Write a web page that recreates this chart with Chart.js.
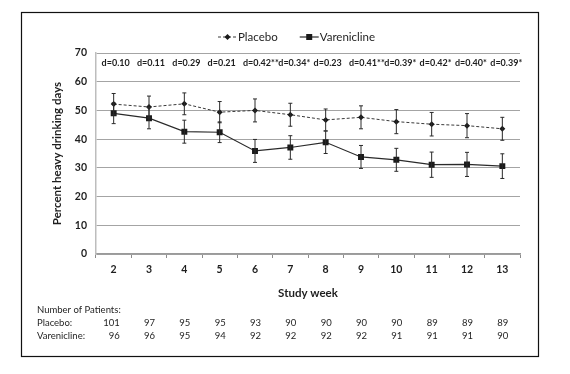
<!DOCTYPE html>
<html>
<head>
<meta charset="utf-8">
<script src="https://cdn.jsdelivr.net/npm/chart.js@4.4.0/dist/chart.umd.min.js"></script>
<style>
    html, body { margin: 0; padding: 0; background: #fff; }
    #wrap { position: relative; width: 570px; height: 374px; }
</style>
</head>
<body>
<div id="wrap"><canvas id="chart" width="570" height="374"></canvas></div>
<script>
// Data
const weeks = ['2', '3', '4', '5', '6', '7', '8', '9', '10', '11', '12', '13'];
const placebo = [52.2, 51.2, 52.3, 49.4, 50.0, 48.5, 46.7, 47.6, 46.1, 45.2, 44.7, 43.6];
const placeboErr = [3.7, 3.8, 3.8, 3.7, 4.0, 4.0, 3.8, 4.0, 4.2, 4.1, 4.2, 4.0];
const varenicline = [49.0, 47.3, 42.6, 42.4, 35.9, 37.1, 38.9, 33.8, 32.8, 31.1, 31.2, 30.6];
const vareniclineErr = [3.6, 3.7, 4.0, 3.6, 4.0, 4.1, 3.9, 4.0, 4.0, 4.4, 4.2, 4.3];
const effectSizes = ['d=0.10', 'd=0.11', 'd=0.29', 'd=0.21', 'd=0.42', 'd=0.34', 'd=0.23', 'd=0.41', 'd=0.39', 'd=0.42', 'd=0.40', 'd=0.39'];
const effectStars = ['', '', '', '', '**', '*', '', '**', '*', '*', '*', '*'];
const placeboN = [101, 97, 95, 95, 93, 90, 90, 90, 90, 89, 89, 89];
const vareniclineN = [96, 96, 95, 94, 92, 92, 92, 92, 91, 91, 91, 90];
const yMin = 0, yMax = 70, yStep = 10;

const FONT = 'Lato, "Noto Sans", sans-serif';
const INK = '#1e1e1e';

// Error bars with small caps
const errorBars = {
    id: 'errorBars',
    afterDatasetsDraw(chart) {
        const ctx = chart.ctx;
        const y = chart.scales.y;
        chart.data.datasets.forEach((ds, di) => {
            const meta = chart.getDatasetMeta(di);
            ctx.save();
            ctx.strokeStyle = '#2a2a2a';
            ctx.lineWidth = 1;
            meta.data.forEach((pt, i) => {
                const top = y.getPixelForValue(ds.data[i] + ds.errors[i]);
                const bot = y.getPixelForValue(ds.data[i] - ds.errors[i]);
                ctx.beginPath();
                ctx.moveTo(pt.x, top); ctx.lineTo(pt.x, bot);
                ctx.moveTo(pt.x - 2, top); ctx.lineTo(pt.x + 2, top);
                ctx.moveTo(pt.x - 2, bot); ctx.lineTo(pt.x + 2, bot);
                ctx.stroke();
            });
            ctx.restore();
        });
    }
};

// Frame, legend, effect sizes and the patient count table
const extras = {
    id: 'extras',
    beforeDraw(chart) {
        const ctx = chart.ctx;
        ctx.save();
        ctx.fillStyle = '#fff';
        ctx.fillRect(0, 0, chart.width, chart.height);
        ctx.strokeStyle = '#111';
        ctx.lineWidth = 1.2;
        ctx.strokeRect(21.5, 12.5, 517, 344);
        ctx.restore();
    },
    afterDraw(chart) {
        const ctx = chart.ctx;
        const x = chart.scales.x;
        const y = chart.scales.y;
        ctx.save();

        // legend
        ctx.font = '11.5px ' + FONT;
        ctx.fillStyle = INK;
        ctx.textBaseline = 'middle';
        let lx = 218;
        const ly = 37;
        chart.data.datasets.forEach(ds => {
            ctx.strokeStyle = ds.borderColor;
            ctx.lineWidth = ds.borderWidth;
            ctx.setLineDash(ds.borderDash || []);
            ctx.beginPath();
            ctx.moveTo(lx, ly); ctx.lineTo(lx + 19, ly);
            ctx.stroke();
            ctx.setLineDash([]);
            ctx.fillStyle = ds.pointBackgroundColor;
            const mx = lx + 9.5;
            if (ds.pointStyle === 'rect') {
                ctx.fillRect(mx - 3, ly - 3, 6, 6);
            } else {
                ctx.beginPath();
                ctx.moveTo(mx, ly - 3); ctx.lineTo(mx + 3, ly);
                ctx.lineTo(mx, ly + 3); ctx.lineTo(mx - 3, ly);
                ctx.closePath();
                ctx.fill();
            }
            ctx.fillStyle = INK;
            ctx.textAlign = 'left';
            ctx.fillText(ds.label, lx + 20, ly);
            lx += 20 + ctx.measureText(ds.label).width + 22;
        });

        // effect sizes
        ctx.font = 'bold 9px ' + FONT;
        ctx.textAlign = 'left';
        const dy = y.getPixelForValue(66.6);
        effectSizes.forEach((d, i) => {
            const cx = x.getPixelForValue(i);
            const w = ctx.measureText(d).width;
            ctx.fillText(d + effectStars[i], cx - w / 2 + 2, dy);
        });

        // number of patients
        ctx.font = '9.5px ' + FONT;
        ctx.textAlign = 'left';
        ctx.fillText('Number of Patients:', 37, 310);
        ctx.fillText('Placebo:', 37, 323);
        ctx.fillText('Varenicline:', 37, 336);
        ctx.textAlign = 'right';
        weeks.forEach((w, i) => {
            const cx = x.getPixelForValue(i) + 6;
            ctx.fillText(String(placeboN[i]), cx, 323);
            ctx.fillText(String(vareniclineN[i]), cx, 336);
        });
        ctx.restore();
    }
};

document.addEventListener('DOMContentLoaded', function() {
    const ctx = document.getElementById('chart');
    new Chart(ctx, {
        type: 'line',
        data: {
            labels: weeks,
            datasets: [
                {
                    label: 'Placebo',
                    data: placebo,
                    errors: placeboErr,
                    borderColor: '#3a3a3a',
                    borderWidth: 1,
                    borderDash: [3, 2],
                    pointStyle: 'rectRot',
                    pointRadius: 3,
                    pointBackgroundColor: '#1a1a1a',
                    pointBorderColor: '#1a1a1a',
                    pointBorderWidth: 0,
                    tension: 0
                },
                {
                    label: 'Varenicline',
                    data: varenicline,
                    errors: vareniclineErr,
                    borderColor: '#2a2a2a',
                    borderWidth: 1.2,
                    pointStyle: 'rect',
                    pointRadius: 4.2,
                    pointBackgroundColor: '#1a1a1a',
                    pointBorderColor: '#1a1a1a',
                    pointBorderWidth: 0,
                    tension: 0
                }
            ]
        },
        options: {
            responsive: false,
            animation: false,
            layout: { padding: { left: 50, right: 50, top: 53, bottom: 70 } },
            plugins: {
                legend: { display: false },
                tooltip: { enabled: false }
            },
            scales: {
                x: {
                    type: 'category',
                    offset: true,
                    afterFit(scale) { scale.height = 50; },
                    grid: {
                        offset: true,
                        drawOnChartArea: false,
                        tickLength: 4,
                        color: '#8c8c8c'
                    },
                    border: { color: '#9a9a9a', width: 1.5 },
                    ticks: {
                        font: { family: FONT, size: 10.5, weight: 'bold' },
                        color: INK,
                        padding: 5
                    },
                    title: {
                        display: true,
                        text: 'Study week',
                        font: { family: FONT, size: 11.5, weight: 'bold' },
                        color: INK,
                        padding: { top: 2 }
                    }
                },
                y: {
                    min: yMin,
                    max: yMax,
                    afterFit(scale) { scale.width = 46; },
                    grid: { color: '#a4a4a4', drawTicks: false },
                    border: { color: '#bdbdbd', width: 1.5 },
                    ticks: {
                        stepSize: yStep,
                        font: { family: FONT, size: 10.5, weight: 'bold' },
                        color: INK,
                        padding: 9
                    },
                    title: {
                        display: true,
                        text: 'Percent heavy drinking days',
                        font: { family: FONT, size: 11.5, weight: 'bold' },
                        color: INK,
                        padding: { top: 0, bottom: 0 }
                    }
                }
            }
        },
        plugins: [errorBars, extras]
    });
});
</script>
</body>
</html>
